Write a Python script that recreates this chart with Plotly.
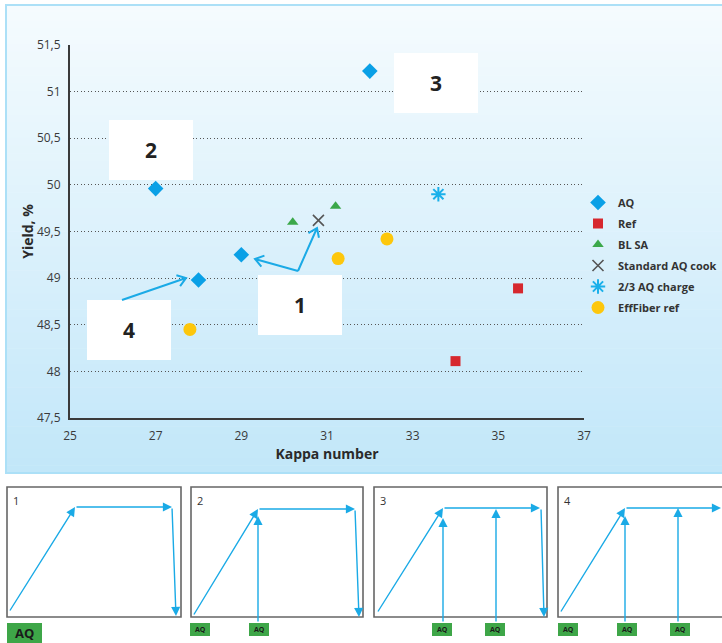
import math
import plotly.graph_objects as go

W, H = 722, 643

# ---- data: kappa number vs. yield -------------------------------------
aq_kappa = [27.0, 28.0, 29.0, 32.0]
aq_yield = [49.96, 48.98, 49.25, 51.22]

ref_kappa = [35.46, 34.0]
ref_yield = [48.89, 48.11]

blsa_kappa = [30.2, 31.2]
blsa_yield = [49.6, 49.77]

std_kappa = [30.8]
std_yield = [49.62]

aq23_kappa = [33.6]
aq23_yield = [49.9]

eff_kappa = [27.8, 31.26, 32.4]
eff_yield = [48.45, 49.21, 49.42]

x_ticks = [25, 27, 29, 31, 33, 35, 37]
y_ticks = [47.5, 48, 48.5, 49, 49.5, 50, 50.5, 51, 51.5]

case_labels = ["1", "2", "3", "4"]


def px(x):
    return x / W


def py(y):
    return 1 - y / H


BLUE = "#1aaae6"
DARK = "#333333"
FONT = "Open Sans"

fig = go.Figure()

series = [
    ("AQ", aq_kappa, aq_yield, dict(symbol="diamond", size=12, color="#0aa0e6")),
    ("Ref", ref_kappa, ref_yield, dict(symbol="square", size=10, color="#d6282e")),
    ("BL SA", blsa_kappa, blsa_yield, dict(symbol="triangle-up", size=10, color="#3ba84a")),
    ("Standard AQ cook", std_kappa, std_yield,
     dict(symbol="x-thin-open", size=11, color="#555555", line=dict(width=1.6, color="#555555"))),
    ("2/3 AQ charge", aq23_kappa, aq23_yield,
     dict(symbol="asterisk-open", size=12, color="#1ab0ea", line=dict(width=2, color="#1ab0ea"))),
    ("EffFiber ref", eff_kappa, eff_yield, dict(symbol="circle", size=13, color="#fdc70c")),
]
for name, xs, ys, mk in series:
    fig.add_trace(go.Scatter(x=xs, y=ys, mode="markers", name="<b>%s</b>" % name,
                             legendgroup=name, marker=mk))

shapes = []
annotations = []

# ---- light-blue gradient panel behind the chart ------------------------
top, bottom = 5, 473
c0 = (245, 251, 254)
c1 = (194, 231, 249)
n = 60
for i in range(n):
    t = i / (n - 1)
    c = tuple(round(a + (b - a) * t) for a, b in zip(c0, c1))
    y0 = top + (bottom - top) * i / n
    y1 = top + (bottom - top) * (i + 1) / n + 0.6
    shapes.append(dict(type="rect", xref="paper", yref="paper",
                       x0=px(6), x1=px(740), y0=py(y1), y1=py(y0),
                       fillcolor="rgb(%d,%d,%d)" % c, line=dict(width=0), layer="below"))
shapes.append(dict(type="rect", xref="paper", yref="paper",
                   x0=px(6), x1=px(740), y0=py(bottom), y1=py(top),
                   fillcolor="rgba(0,0,0,0)", line=dict(width=2, color="#ace0f7"), layer="below"))


def label(x, y, text, size, color, xanchor="center"):
    annotations.append(dict(x=px(x), y=py(y), xref="paper", yref="paper", text=text,
                            showarrow=False, xanchor=xanchor, yanchor="middle",
                            font=dict(family=FONT, size=size, color=color)))


# ---- white call-out boxes with case numbers ----------------------------
boxes = [(258, 275, 342, 335), (109, 120, 193, 180), (394, 53, 478, 113), (87, 300, 171, 360)]
for lab, (x0, y0, x1, y1) in zip(case_labels, boxes):
    shapes.append(dict(type="rect", xref="paper", yref="paper",
                       x0=px(x0), x1=px(x1), y0=py(y1), y1=py(y0),
                       fillcolor="white", line=dict(width=0), layer="above"))
    label((x0 + x1) / 2, (y0 + y1) / 2, "<b>%s</b>" % lab, 21, "#222222")


def open_arrow(tail, tip, head=10, ang=35):
    dx, dy = tip[0] - tail[0], tip[1] - tail[1]
    L = math.hypot(dx, dy)
    ux, uy = dx / L, dy / L
    pts = []
    for s in (1, -1):
        a = math.radians(ang) * s
        rx = ux * math.cos(a) - uy * math.sin(a)
        ry = ux * math.sin(a) + uy * math.cos(a)
        pts.append((tip[0] - head * rx, tip[1] - head * ry))
    path = "M %f,%f L %f,%f M %f,%f L %f,%f L %f,%f" % (
        px(tail[0]), py(tail[1]), px(tip[0]), py(tip[1]),
        px(pts[0][0]), py(pts[0][1]), px(tip[0]), py(tip[1]), px(pts[1][0]), py(pts[1][1]))
    shapes.append(dict(type="path", xref="paper", yref="paper", path=path,
                       line=dict(color=BLUE, width=2), layer="above"))


open_arrow((298, 271), (255, 259))
open_arrow((298, 271), (317, 228))
open_arrow((122, 300), (186, 278))

# ---- dosing diagrams under the chart ------------------------------------
panels = [(7, 181), (191, 363), (374, 547), (558, 760)]
for lab, (x0, x1) in zip(case_labels, panels):
    shapes.append(dict(type="rect", xref="paper", yref="paper",
                       x0=px(x0), x1=px(x1), y0=py(617), y1=py(487),
                       fillcolor="white", line=dict(width=1.6, color="#666666"), layer="above"))
    label(x0 + 4, 500, lab, 11, "#333333", xanchor="left")


def solid_arrow(tail, tip):
    annotations.append(dict(x=px(tip[0]), y=py(tip[1]), xref="paper", yref="paper",
                            ax=tail[0] - tip[0], ay=tail[1] - tip[1], axref="pixel", ayref="pixel",
                            text="", showarrow=True, arrowhead=2, arrowsize=1.3,
                            arrowwidth=1.4, arrowcolor=BLUE, standoff=0))


# temperature profiles: ramp, plateau, cool-down
solid_arrow((9, 612), (75, 507))
solid_arrow((75, 507), (172, 507))
solid_arrow((172, 507), (176, 616))

solid_arrow((193, 616), (258, 509))
solid_arrow((258, 509), (355, 509))
solid_arrow((355, 509), (359, 617))
solid_arrow((258, 623), (258, 516))

solid_arrow((377, 613), (443, 508))
solid_arrow((443, 508), (540, 508))
solid_arrow((541, 508), (544, 617))
solid_arrow((443, 623), (443, 518))
solid_arrow((496, 623), (496, 509))

solid_arrow((560, 613), (625, 508))
solid_arrow((625, 508), (721, 508))
solid_arrow((625, 623), (625, 516))
solid_arrow((678, 623), (678, 508))

# AQ dosing tags
tags = [(7, 42, 623, 643, 13), (190, 210, 623, 636, 7), (249, 269, 623, 636, 7),
        (432, 452, 623, 636, 7), (485, 505, 623, 636, 7),
        (558, 578, 623, 636, 7), (617, 637, 623, 636, 7), (670, 690, 623, 636, 7)]
for x0, x1, y0, y1, fs in tags:
    shapes.append(dict(type="rect", xref="paper", yref="paper",
                       x0=px(x0), x1=px(x1), y0=py(y1), y1=py(y0),
                       fillcolor="#3ea648", line=dict(width=0), layer="above"))
    label((x0 + x1) / 2, (y0 + y1) / 2, "<b>AQ</b>", fs, "#1a1a1a")

fig.update_layout(
    width=W, height=H,
    margin=dict(l=0, r=0, t=0, b=0, autoexpand=False),
    paper_bgcolor="white", plot_bgcolor="rgba(0,0,0,0)",
    separators=", ",
    font=dict(family=FONT, color=DARK),
    shapes=shapes, annotations=annotations,
    legend=dict(x=px(578), y=py(188), xanchor="left", yanchor="top",
                bgcolor="rgba(0,0,0,0)", font=dict(family=FONT, size=11, color=DARK),
                itemsizing="trace", tracegroupgap=2),
    xaxis=dict(domain=[px(70), px(584)], range=[25, 37], tickvals=x_ticks, automargin=False,
               showgrid=False, zeroline=False, showline=True, linecolor="#3a3a3a", linewidth=2,
               ticks="", tickfont=dict(size=12, color="#3a3a3a"), ticklabelstandoff=6,
               title=dict(text="<b>Kappa number</b>", font=dict(size=14, color="#2a2a2a"), standoff=1)),
    yaxis=dict(domain=[py(418), py(45)], range=[47.5, 51.5], tickvals=y_ticks, automargin=False,
               showgrid=True, gridcolor="#555555", griddash="1px,2.5px", gridwidth=1,
               zeroline=False, showline=True, linecolor="#3a3a3a", linewidth=2,
               ticks="", tickfont=dict(size=12, color="#3a3a3a"), ticklabelstandoff=5,
               title=dict(text="<b>Yield, %</b>", font=dict(size=14, color="#2a2a2a"), standoff=0)),
)

fig.write_html("out.html")
